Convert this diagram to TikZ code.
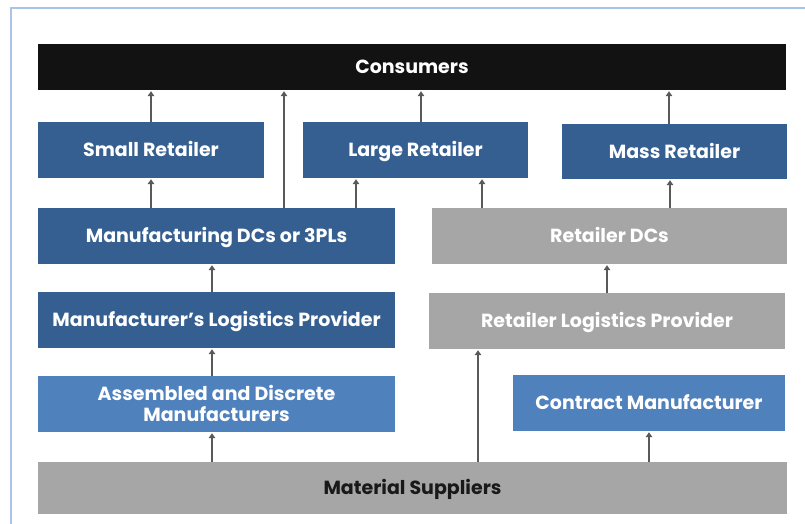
\documentclass[tikz,border=0pt]{standalone}
\usepackage{fontspec}
\setmainfont{Poppins}
\usepackage{xcolor}
\usepackage{tikz}
\usetikzlibrary{positioning,arrows.meta}

\definecolor{darkblue}{HTML}{365F91}
\definecolor{lightblue}{HTML}{4F81BD}
\definecolor{boxgray}{HTML}{A6A6A6}
\definecolor{framecol}{HTML}{A9C4E8}
\definecolor{arrowcol}{HTML}{595959}

\tikzset{
  box/.style={rectangle, inner sep=0pt, font=\bfseries\fontsize{19}{21}\selectfont, text=white, align=center, text height=13pt, text depth=0pt},
  bluebox/.style={box, fill=darkblue},
  lightbox/.style={box, fill=lightblue},
  graybox/.style={box, fill=boxgray},
  flow/.style={draw=arrowcol, line width=2pt, -{Triangle[width=6.5pt,length=5pt]}, shorten >=1pt}
}

\begin{document}
\begin{tikzpicture}[x=1pt, y=-1pt]
	\useasboundingbox[fill=white] (0,0) rectangle (805,524);
	\draw[framecol, line width=1.5pt] (11,530) -- (11,8) -- (810,8);
	\node[box, fill=black!93, minimum width=748pt, minimum height=46pt] (consumers) at (412,67) {Consumers};
	\node[bluebox, minimum width=226pt, minimum height=56pt] (small) at (151,150) {Small Retailer};
	\node[bluebox, minimum width=225pt, minimum height=56pt] (large) at (415.5,150) {Large Retailer};
	\node[bluebox, minimum width=225pt, minimum height=55pt] (mass) at (674.5,151.5) {Mass Retailer};
	\node[bluebox, minimum width=357pt, minimum height=56pt] (mfgdc) at (216.5,236) {Manufacturing DCs or 3PLs};
	\node[graybox, minimum width=355pt, minimum height=56pt] (retdc) at (609.5,236) {Retailer DCs};
	\node[bluebox, minimum width=357pt, minimum height=56pt] (mfglog) at (216.5,320) {Manufacturer’s Logistics Provider};
	\node[graybox, minimum width=356pt, minimum height=56pt] (retlog) at (607,321) {Retailer Logistics Provider};
	\node[lightbox, text height=34pt, minimum width=357pt, minimum height=56pt] (assembled) at (216.5,404) {Assembled and Discrete\\Manufacturers};
	\node[lightbox, minimum width=272pt, minimum height=56pt] (contract) at (649,403) {Contract Manufacturer};
	\node[graybox, text=black!90, minimum width=749pt, minimum height=52pt] (material) at (412.5,488) {Material Suppliers};
	\draw[flow] (small.north) -- (consumers.south -| small.north);
	\draw[flow] (mfgdc.north -| 284,0) -- (consumers.south -| 284,0);
	\draw[flow] (large.north -| 421,0) -- (consumers.south -| 421,0);
	\draw[flow] (mass.north -| 669,0) -- (consumers.south -| 669,0);
	\draw[flow] (mfgdc.north -| small.south) -- (small.south);
	\draw[flow] (mfgdc.north -| 356,0) -- (large.south -| 356,0);
	\draw[flow] (retdc.north -| 482,0) -- (large.south -| 482,0);
	\draw[flow] (retdc.north -| 670,0) -- (mass.south -| 670,0);
	\draw[flow] (mfglog.north -| 212,0) -- (mfgdc.south -| 212,0);
	\draw[flow] (assembled.north -| 212,0) -- (mfglog.south -| 212,0);
	\draw[flow] (material.north -| 212,0) -- (assembled.south -| 212,0);
	\draw[flow] (retlog.north) -- (retdc.south -| retlog.north);
	\draw[flow] (material.north -| 478,0) -- (retlog.south -| 478,0);
	\draw[flow] (material.north -| 649,0) -- (contract.south);
\end{tikzpicture}
\end{document}
